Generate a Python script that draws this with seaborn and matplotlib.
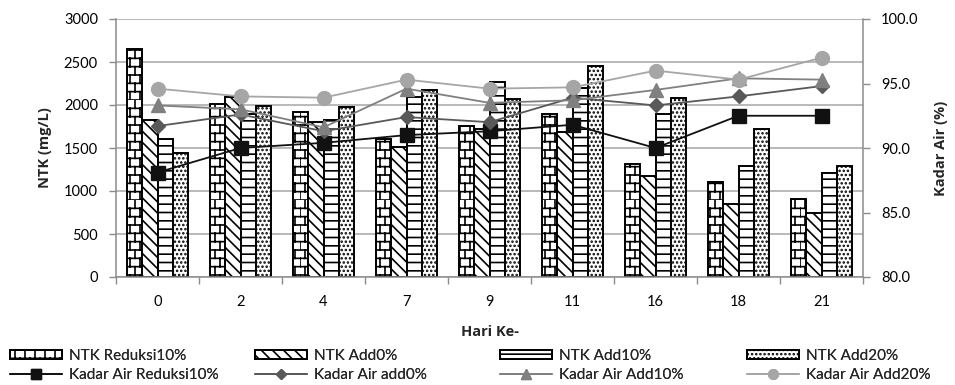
import warnings

import matplotlib
matplotlib.use("Agg")
import matplotlib.pyplot as plt
import matplotlib.hatch as mhatch
from matplotlib.path import Path
from matplotlib.ticker import FixedLocator, FormatStrFormatter
import numpy as np
import pandas as pd
import seaborn as sns

warnings.filterwarnings("ignore", message=".*hatch.*")

# ---------------------------------------------------------------- data
days = ["0", "2", "4", "7", "9", "11", "16", "18", "21"]

ntk_labels = ["NTK Reduksi10%", "NTK Add0%", "NTK Add10%", "NTK Add20%"]
ntk_reduksi10 = [2650, 2010, 1915, 1610, 1760, 1895, 1315, 1100, 905]
ntk_add0 = [1820, 2095, 1800, 1515, 1720, 1690, 1175, 850, 740]
ntk_add10 = [1610, 1900, 1820, 2095, 2270, 2200, 1895, 1285, 1215]
ntk_add20 = [1440, 1985, 1975, 2175, 2065, 2450, 2085, 1720, 1285]

ka_labels = ["Kadar Air Reduksi10%", "Kadar Air add0%",
             "Kadar Air Add10%", "Kadar Air Add20%"]
ka_reduksi10 = [88.1, 90.0, 90.4, 91.0, 91.3, 91.8, 90.0, 92.5, 92.5]
ka_add0 = [91.7, 92.6, 91.3, 92.4, 92.0, 93.9, 93.3, 94.0, 94.8]
ka_add10 = [93.3, 93.0, 91.6, 94.6, 93.5, 93.7, 94.5, 95.4, 95.3]
ka_add20 = [94.6, 94.0, 93.9, 95.3, 94.6, 94.7, 96.0, 95.3, 97.0]

left_ticks = [0, 500, 1000, 1500, 2000, 2500, 3000]
right_ticks = [80.0, 85.0, 90.0, 95.0, 100.0]


# ---------------------------------------------------------------- brick hatch
class BrickHatch(mhatch.HatchPatternBase):
    """Running-bond brick pattern, selected with the 'b' hatch character."""

    def __init__(self, hatch, density):
        rows = int(hatch.count("b") * density)
        self.rows = rows - rows % 2
        self.cols = int(round(self.rows * 0.8))
        self.num_vertices = 2 * self.rows + 2 * self.rows * self.cols

    def set_vertices_and_codes(self, vertices, codes):
        h = 1.0 / self.rows
        pts = []
        for i in range(self.rows):
            pts += [(0.0, i * h), (1.0, i * h)]
        for i in range(self.rows):
            off = 0.5 / self.cols if i % 2 else 0.0
            for j in range(self.cols):
                x = j / self.cols + off
                pts += [(x, i * h), (x, (i + 1) * h)]
        vertices[:] = np.array(pts)
        codes[0::2] = Path.MOVETO
        codes[1::2] = Path.LINETO


mhatch._hatch_types.append(BrickHatch)

# ---------------------------------------------------------------- style
sns.set_style("white")
plt.rcParams["font.family"] = ["Lato", "DejaVu Sans"]
plt.rcParams["hatch.linewidth"] = 1.2
plt.rcParams["hatch.color"] = "black"

GRID = "#a6a6a6"
SPINE = "#8c8c8c"
FS = 10.5
TITLE_FONT = dict(family=["Open Sans", "DejaVu Sans"], fontsize=10.5,
                  fontweight="bold")

fig = plt.figure(figsize=(9.55, 3.85), dpi=100)
ax = fig.add_axes([116 / 955, 1 - 277 / 385, 747 / 955, 258 / 385])

ntk = pd.DataFrame({
    "Hari": days * 4,
    "NTK": ntk_reduksi10 + ntk_add0 + ntk_add10 + ntk_add20,
    "Perlakuan": [lab for lab in ntk_labels for _ in days],
})

sns.barplot(data=ntk, x="Hari", y="NTK", hue="Perlakuan", order=days,
            hue_order=ntk_labels, palette={l: "white" for l in ntk_labels},
            saturation=1, edgecolor="black", linewidth=1.4, width=0.735,
            errorbar=None, legend=False, ax=ax)

hatches = ["bb", "\\\\\\", "--", "...."]
for cont, h in zip(ax.containers, hatches):
    for p in cont:
        p.set_hatch(h)

ax.set_ylim(0, 3000)
ax.yaxis.set_major_locator(FixedLocator(left_ticks))
ax.grid(axis="y", color=GRID, linewidth=1.1)
ax.grid(axis="x", visible=False)
ax.set_axisbelow(True)

# ---------------------------------------------------------------- moisture lines
ax2 = ax.twinx()
line_specs = [
    (ka_reduksi10, "#111111", "s", 10.3),
    (ka_add0, "#595959", "D", 7.0),
    (ka_add10, "#808080", "^", 9.5),
    (ka_add20, "#a6a6a6", "o", 10.0),
]
for vals, col, mk, ms in line_specs:
    sns.pointplot(x=days, y=vals, order=days, color=col, markers=mk,
                  linestyles="-", errorbar=None, ax=ax2,
                  markersize=ms, linewidth=1.3)

ax2.set_ylim(80, 100)
ax2.yaxis.set_major_locator(FixedLocator(right_ticks))
ax2.yaxis.set_major_formatter(FormatStrFormatter("%.1f"))
ax2.grid(False)
ax2.set_xlim(-0.5, len(days) - 0.5)

# ---------------------------------------------------------------- axes cosmetics
ax.set_xticks(range(len(days)))
ax.set_xticklabels(days)
ax.set_xticks(np.arange(len(days) + 1) - 0.5, minor=True)
ax.tick_params(axis="x", which="major", length=0, pad=13, labelsize=FS,
               colors="black")
ax.tick_params(axis="x", which="minor", length=5, width=1, color=SPINE,
               direction="out", bottom=True)
ax.tick_params(axis="y", length=5, width=1, color=SPINE, pad=8,
               labelsize=FS, labelcolor="black", left=True)
ax2.tick_params(axis="y", length=5, width=1, color=SPINE, pad=8,
                labelsize=FS, labelcolor="black", right=True)

for a in (ax, ax2):
    a.spines["top"].set_visible(False)
ax.spines["right"].set_visible(False)
ax2.spines["left"].set_visible(False)
ax2.spines["bottom"].set_visible(False)
for s in ("left", "bottom"):
    ax.spines[s].set_color(SPINE)
    ax.spines[s].set_linewidth(1.1)
ax2.spines["right"].set_color(SPINE)
ax2.spines["right"].set_linewidth(1.1)

ax.set_xlabel("Hari Ke-", **TITLE_FONT)
ax.xaxis.set_label_coords(0.5, -0.185)
ax.set_ylabel("NTK (mg/L)", **TITLE_FONT)
ax.yaxis.set_label_coords(-0.0857, 0.5)
ax2.set_ylabel("Kadar Air (%)", **TITLE_FONT)
ax2.yaxis.set_label_coords(1.095, 0.5)

# ---------------------------------------------------------------- legend
bar_handles = [cont.patches[0] for cont in ax.containers]
line_handles = [l for l in ax2.lines if len(l.get_xdata()) == len(days)]
col_x = [10, 255, 500, 747]
for i in range(4):
    leg = fig.legend([bar_handles[i], line_handles[i]],
                     [ntk_labels[i], ka_labels[i]],
                     loc="upper left",
                     bbox_to_anchor=(col_x[i] / 955, 1 - 349 / 385),
                     bbox_transform=fig.transFigure,
                     frameon=False, fontsize=FS + 0.5, borderpad=0,
                     borderaxespad=0, handlelength=3.4, handleheight=0.5,
                     handletextpad=0.45, labelspacing=0.35, markerscale=0.7)
    fig.add_artist(leg)

fig.savefig("out.png", dpi=100, facecolor="white")
